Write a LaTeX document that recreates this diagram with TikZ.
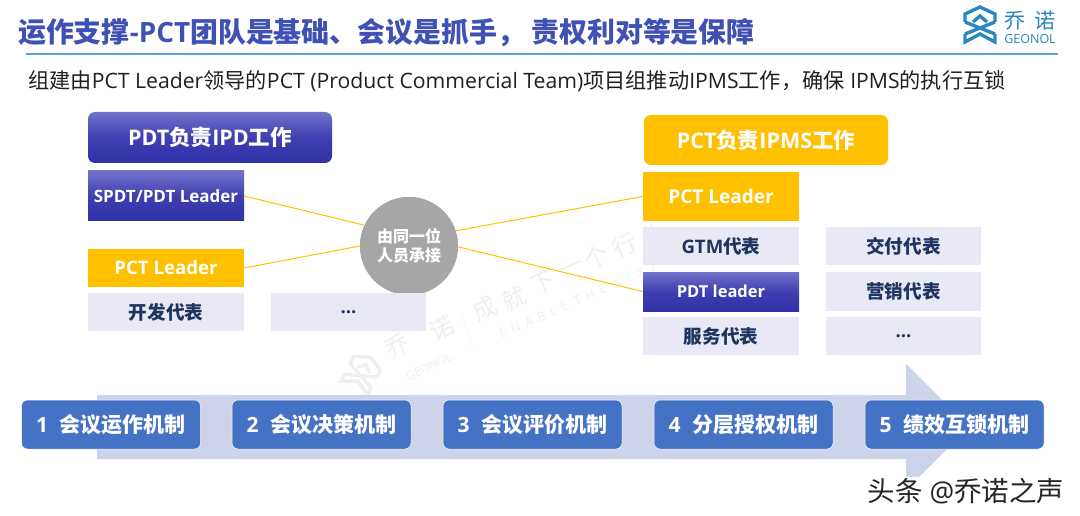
\documentclass[tikz,border=0pt]{standalone}
\usepackage{fontspec}
\setmainfont{Open Sans}
\newfontfamily\cjk{Noto Sans CJK SC}
\newcommand{\C}[1]{{\cjk #1}}
\newcommand{\fs}[1]{\fontsize{#1}{#1}\selectfont}
\definecolor{titleblue}{HTML}{3F51B5}
\definecolor{ruleblue}{HTML}{5BA3E0}
\definecolor{gold}{HTML}{FFC000}
\definecolor{indigoTop}{HTML}{7272CC}
\definecolor{indigoMid}{HTML}{3F3FB0}
\definecolor{indigoBot}{HTML}{3030A8}
\definecolor{pale}{HTML}{E8E9F4}
\definecolor{navy}{HTML}{1F3560}
\definecolor{circ}{HTML}{A6A6A6}
\definecolor{arrowfill}{HTML}{CDD4EA}
\definecolor{mech}{HTML}{4472C4}
\definecolor{logoblue}{HTML}{2A86BE}
\definecolor{wm}{HTML}{EFEFEF}
\tikzset{
  x=1pt,y=-1pt,
  cell/.style={rectangle,inner sep=0pt,minimum width=156pt,font=\bfseries\fs{18.6}},
  indigo/.style={top color=indigoTop,bottom color=indigoBot,middle color=indigoMid,text=white},
  goldbox/.style={fill=gold,text=white},
  palebox/.style={fill=pale,text=navy},
  head/.style={rectangle,rounded corners=7pt,inner sep=0pt,minimum width=244pt,minimum height=51pt,font=\bfseries\fs{21.5}},
  mechbox/.style={rectangle,rounded corners=6pt,inner sep=0pt,minimum width=179pt,minimum height=49pt,fill=mech,draw=white,line width=.5pt,text=white,font=\bfseries\fs{21}},
  link/.style={draw=gold,line width=1pt},
  logoline/.style={line width=3.4pt,line join=miter},
  pics/logomark/.style={code={
    \draw[logoline,#1] (-15,-3)--(-15,-11)--(0,-18)--(15,-11)--(15,-3);
    \draw[logoline,#1] (-7,-3)--(0,-9)--(7,-3);
    \draw[logoline,#1] (-15,-3)--(15,9);
    \draw[logoline,#1] (15,-3)--(-15,9);
    \draw[logoline,#1] (-15,9)--(-15,17)--(0,9)--(15,17)--(15,9);
  }}
}
\begin{document}
\begin{tikzpicture}
\useasboundingbox (0,0) rectangle (1080,516);
% watermark
\pic[rotate=-27,scale=1] at (362,373) {logomark={draw=wm}};
\begin{scope}[wm,font=\cjk\fs{24}]
\node[rotate=27,inner sep=0pt] (wa) at (397,346) {乔};
\node[rotate=27,inner sep=0pt] (wb) at (442,328) {诺};
\node[rotate=24,inner sep=0pt] (w1) at (485,308) {成};
\node[rotate=24,inner sep=0pt] (w2) at (514,298) {就};
\node[rotate=24,inner sep=0pt] (w3) at (543,283) {下};
\node[rotate=24,inner sep=0pt] (w4) at (572,270) {一};
\node[rotate=24,inner sep=0pt] (w5) at (597,257) {个};
\node[rotate=24,inner sep=0pt] (w6) at (625,245) {行};
\node[rotate=24,inner sep=0pt] (w7) at (653,235) {业};
\end{scope}
\node[rotate=26,wm,inner sep=0pt,font=\fs{12}] (wg) at (429,367) {GEONOL};
\node[rotate=24,wm,inner sep=0pt,font=\addfontfeature{LetterSpace=45}\fs{12.5}] (we) at (578,300) {ENABLE\hspace{.6em}THE\hspace{.6em}NEXT};
\coordinate (wd1) at (462,315);
\coordinate (wd2) at (472,345);
\draw[wm] (wd1) -- (wd2);
% flow arrow
\fill[arrowfill] (97,395) -- (906,395) -- (906,364) -- (969,427) -- (906,490) -- (906,459) -- (97,459) -- cycle;
% title block
\node[anchor=west,inner sep=0pt,text=titleblue,font=\bfseries\fs{27.9}] (title) at (18,33) {\C{运作支撑}-PCT\C{团队是基础、会议是抓手， 责权利对等是保障}};
\coordinate (ruleL) at (26,54);
\coordinate (ruleR) at (1058,54);
\draw[ruleblue,line width=1.2pt] (ruleL) -- (ruleR);
\node[anchor=west,inner sep=0pt,text=black!88,font=\fs{21.2}] (sub) at (28,81) {\C{组建由}PCT Leader\C{领导的}PCT (Product Commercial Team)\C{项目组推动}IPMS\C{工作，确保} IPMS\C{的执行互锁}};
% logo
\pic at (980,25) {logomark={draw=logoblue}};
\node[text=logoblue,inner sep=0pt,font=\cjk\fs{21}] (lq) at (1015,21) {乔};
\node[text=logoblue,inner sep=0pt,font=\cjk\fs{21}] (ln) at (1045,21) {诺};
\node[text=logoblue,inner sep=0pt,font=\fs{12.5}] (lg) at (1030,39) {GEONOL};
% connectors
\node[circle,fill=circ,inner sep=0pt,minimum size=98pt] (hub) at (409,246) {};
\node[cell,indigo,minimum height=50pt,font=\bfseries\fs{17}] (spdt) at (166,196) {SPDT/PDT Leader};
\node[cell,goldbox,minimum height=38pt] (pctL) at (166,268) {PCT Leader};
\node[cell,goldbox,minimum height=49pt,font=\bfseries\fs{19}] (pctR) at (721,196.5) {PCT Leader};
\node[cell,indigo,minimum height=39pt,font=\bfseries\fs{16.5}] (pdtR) at (721,291.5) {PDT leader};
\draw[link] (spdt.east) -- (hub.155);
\draw[link] (pctL.east) -- (hub.180);
\draw[link] (hub.18) -- (pctR.west);
\draw[link] (hub.-1) -- (pdtR.west);
\node[circle,fill=circ,inner sep=0pt,minimum size=98pt,text=white,font=\bfseries\fs{16},align=center] (hubtop) at (409,246) {\C{由同一位}\\[3pt]\C{人员承接}};
% left column
\node[head,indigo] (pdthead) at (210,137.5) {PDT\C{负责}IPD\C{工作}};
\node[cell,palebox,minimum height=38pt] (devrep) at (166,312) {\C{开发代表}};
\node[cell,palebox,minimum height=38pt,minimum width=155pt] (moreL) at (348.5,312) {...};
% right column
\node[head,goldbox,minimum height=50pt] (pcthead) at (766,140) {PCT\C{负责}IPMS\C{工作}};
\node[cell,palebox,minimum height=38pt] (gtm) at (721,246) {GTM\C{代表}};
\node[cell,palebox,minimum height=38pt] (svc) at (721,336) {\C{服务代表}};
\node[cell,palebox,minimum height=38pt,minimum width=155pt] (del) at (903.5,246) {\C{交付代表}};
\node[cell,palebox,minimum height=39pt,minimum width=155pt] (mkt) at (903.5,291.5) {\C{营销代表}};
\node[cell,palebox,minimum height=38pt,minimum width=155pt] (moreR) at (903.5,336) {...};
% mechanisms
\node[mechbox] (m1) at (111,424.5) {1\hspace{.55em}\C{会议运作机制}};
\node[mechbox] (m2) at (321.5,424.5) {2\hspace{.55em}\C{会议决策机制}};
\node[mechbox] (m3) at (532.5,424.5) {3\hspace{.55em}\C{会议评价机制}};
\node[mechbox] (m4) at (743.5,424.5) {4\hspace{.55em}\C{分层授权机制}};
\node[mechbox] (m5) at (954.5,424.5) {5\hspace{.55em}\C{绩效互锁机制}};
% source tag
\node[fill=white,inner sep=0pt,minimum width=200pt,minimum height=28pt,text=black!85,font=\fs{27.5}] (tag) at (966,491) {\C{头条} @\C{乔诺之声}};
\end{tikzpicture}
\end{document}
